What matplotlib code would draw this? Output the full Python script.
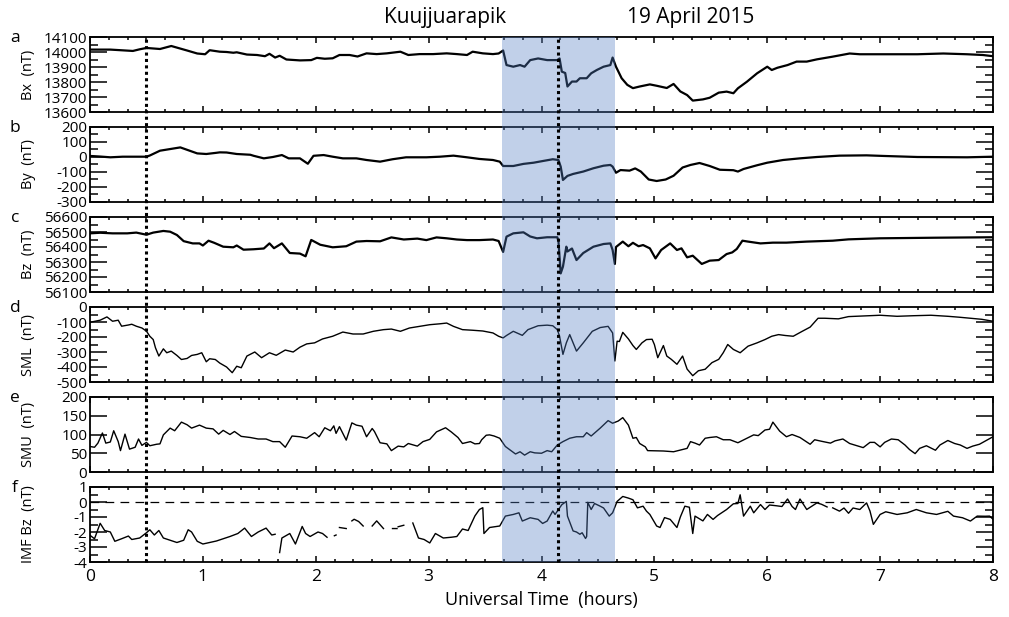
import numpy as np
import matplotlib
matplotlib.use("Agg")
import matplotlib.pyplot as plt
from matplotlib.patches import Rectangle
from matplotlib.lines import Line2D
from matplotlib.transforms import blended_transform_factory
from matplotlib.ticker import MultipleLocator

plt.rcParams['font.family'] = ['Open Sans', 'DejaVu Sans']
plt.rcParams['axes.unicode_minus'] = False

nan = np.nan

# (hours UT, value)
BX = [(0, 14016), (0.18, 14016), (0.27, 14012), (0.38, 14007), (0.44, 14018), (0.5, 14027),
      (0.62, 14020), (0.72, 14040), (0.86, 14010), (0.95, 13990), (1.02, 13985), (1.06, 14012),
      (1.15, 14002), (1.21, 14000), (1.27, 13995), (1.30, 13998), (1.39, 13983), (1.48, 13980),
      (1.55, 13972), (1.59, 13988), (1.64, 13963), (1.68, 13975), (1.74, 13950), (1.86, 13944),
      (1.96, 13946), (2.01, 13961), (2.08, 13955), (2.15, 13958), (2.21, 13980), (2.30, 13980),
      (2.37, 13970), (2.45, 13991), (2.54, 13986), (2.63, 13991), (2.75, 14002), (2.82, 13980),
      (2.92, 13986), (3.04, 13986), (3.16, 13991), (3.25, 13986), (3.34, 13980), (3.39, 14002),
      (3.48, 13991), (3.57, 13986), (3.62, 13990), (3.66, 14010), (3.69, 13913), (3.75, 13902),
      (3.81, 13913), (3.85, 13902), (3.90, 13946), (3.97, 13957), (4.05, 13946), (4.14, 13946),
      (4.16, 13957), (4.18, 13869), (4.21, 13860), (4.23, 13770), (4.27, 13803), (4.31, 13803),
      (4.34, 13825), (4.40, 13825), (4.44, 13858), (4.49, 13880), (4.55, 13902), (4.61, 13913),
      (4.63, 13963), (4.66, 13902), (4.71, 13825), (4.76, 13781), (4.81, 13759), (4.87, 13770),
      (4.96, 13784), (5.02, 13775), (5.11, 13760), (5.17, 13787), (5.23, 13737), (5.29, 13713),
      (5.34, 13676), (5.43, 13684), (5.49, 13695), (5.57, 13729), (5.64, 13736), (5.70, 13725),
      (5.74, 13758), (5.82, 13802), (5.91, 13858), (6.00, 13902), (6.04, 13880), (6.09, 13895),
      (6.18, 13913), (6.26, 13936), (6.35, 13936), (6.44, 13951), (6.58, 13969), (6.73, 13990),
      (6.82, 13985), (7.03, 13985), (7.33, 13985), (7.56, 13990), (7.77, 13985), (7.91, 13980),
      (8.0, 13972)]

BY = [(0, 7), (0.09, 3), (0.18, -2), (0.29, 2), (0.38, 2), (0.5, 2), (0.53, 10), (0.62, 42),
      (0.71, 53), (0.8, 64), (0.86, 48), (0.95, 24), (1.03, 20), (1.12, 28), (1.15, 31),
      (1.21, 30), (1.3, 20), (1.42, 15), (1.45, 8), (1.54, -9), (1.62, 0), (1.70, 13),
      (1.76, -9), (1.86, -9), (1.93, -45), (1.98, 8), (2.07, 13), (2.15, 2), (2.24, -9),
      (2.36, -9), (2.45, -20), (2.57, -31), (2.68, -15), (2.8, -2), (2.98, -2), (3.1, 2),
      (3.22, 9), (3.34, -2), (3.45, -13), (3.57, -20), (3.63, -31), (3.66, -60), (3.75, -60),
      (3.84, -46), (3.93, -38), (4.01, -27), (4.10, -15), (4.15, -20), (4.17, -64), (4.19, -153),
      (4.23, -126), (4.28, -113), (4.37, -97), (4.46, -75), (4.55, -58), (4.61, -53), (4.63, -64),
      (4.66, -105), (4.70, -87), (4.78, -91), (4.83, -76), (4.88, -97), (4.95, -150), (5.02, -160),
      (5.10, -150), (5.17, -125), (5.25, -70), (5.32, -53), (5.40, -40), (5.49, -60), (5.58, -85),
      (5.70, -88), (5.74, -97), (5.79, -80), (5.91, -55), (6.0, -38), (6.14, -20), (6.29, -9),
      (6.44, 0), (6.64, 9), (6.88, 11), (7.03, 7), (7.33, 0), (7.77, -2), (8.0, 2)]

BZ = [(0, 56491), (0.09, 56495), (0.2, 56491), (0.33, 56491), (0.41, 56496), (0.5, 56482),
      (0.56, 56496), (0.65, 56507), (0.71, 56502), (0.77, 56480), (0.83, 56439), (0.91, 56424),
      (0.97, 56424), (1.0, 56410), (1.05, 56442), (1.10, 56428), (1.18, 56402), (1.27, 56398),
      (1.3, 56410), (1.36, 56382), (1.45, 56385), (1.54, 56390), (1.59, 56424), (1.63, 56392),
      (1.70, 56424), (1.77, 56360), (1.86, 56356), (1.91, 56338), (1.96, 56447), (2.04, 56415),
      (2.15, 56398), (2.27, 56405), (2.36, 56436), (2.45, 56440), (2.57, 56438), (2.67, 56464),
      (2.78, 56450), (2.9, 56456), (2.98, 56446), (3.07, 56464), (3.16, 56458), (3.25, 56450),
      (3.34, 56446), (3.45, 56446), (3.57, 56450), (3.62, 56440), (3.66, 56367), (3.69, 56469),
      (3.75, 56491), (3.84, 56498), (3.90, 56470), (3.96, 56458), (4.05, 56465), (4.14, 56465),
      (4.15, 56440), (4.17, 56224), (4.19, 56269), (4.22, 56402), (4.23, 56370), (4.27, 56390),
      (4.31, 56313), (4.37, 56360), (4.46, 56402), (4.55, 56420), (4.61, 56424), (4.63, 56380),
      (4.65, 56287), (4.66, 56400), (4.72, 56436), (4.77, 56405), (4.81, 56428), (4.86, 56405),
      (4.9, 56413), (4.96, 56391), (5.01, 56324), (5.06, 56380), (5.14, 56424), (5.2, 56380),
      (5.24, 56391), (5.29, 56331), (5.34, 56342), (5.42, 56287), (5.49, 56309), (5.57, 56313),
      (5.64, 56353), (5.69, 56364), (5.73, 56387), (5.78, 56442), (5.83, 56436), (5.94, 56424),
      (6.05, 56429), (6.17, 56429), (6.35, 56436), (6.58, 56442), (6.72, 56451), (7.0, 56458),
      (7.5, 56462), (8.0, 56465)]

SML = [(0, -102), (0.09, -88), (0.15, -66), (0.2, -95), (0.25, -88), (0.28, -128), (0.34, -120),
       (0.37, -115), (0.41, -128), (0.46, -140), (0.5, -161), (0.53, -195), (0.56, -217),
       (0.58, -272), (0.61, -327), (0.65, -279), (0.68, -305), (0.72, -294), (0.77, -323),
       (0.81, -350), (0.86, -343), (0.9, -323), (0.95, -316), (0.99, -305), (1.03, -365),
       (1.06, -345), (1.11, -350), (1.15, -374), (1.21, -400), (1.26, -438), (1.3, -395),
       (1.34, -405), (1.39, -327), (1.46, -300), (1.52, -338), (1.59, -305), (1.65, -322),
       (1.73, -287), (1.8, -300), (1.86, -268), (1.92, -246), (1.99, -239), (2.06, -213),
       (2.15, -195), (2.24, -167), (2.33, -180), (2.42, -180), (2.51, -162), (2.6, -151),
       (2.67, -147), (2.75, -162), (2.83, -140), (2.92, -129), (3.01, -118), (3.1, -112),
       (3.16, -107), (3.22, -129), (3.3, -151), (3.39, -155), (3.48, -160), (3.57, -173),
       (3.62, -195), (3.66, -206), (3.69, -190), (3.75, -162), (3.83, -189), (3.88, -151),
       (3.97, -125), (4.05, -121), (4.1, -125), (4.14, -151), (4.16, -195), (4.19, -316),
       (4.22, -239), (4.25, -184), (4.31, -294), (4.37, -239), (4.45, -162), (4.52, -137),
       (4.59, -129), (4.63, -173), (4.65, -360), (4.67, -228), (4.69, -230), (4.72, -169),
       (4.77, -213), (4.81, -257), (4.84, -283), (4.89, -239), (4.93, -217), (4.98, -215),
       (5.0, -250), (5.03, -338), (5.08, -257), (5.11, -327), (5.15, -349), (5.2, -382),
       (5.25, -327), (5.29, -414), (5.34, -458), (5.39, -425), (5.45, -415), (5.51, -371),
       (5.57, -349), (5.61, -305), (5.65, -250), (5.7, -283), (5.76, -305), (5.83, -261),
       (5.91, -239), (5.98, -217), (6.04, -195), (6.1, -184), (6.16, -190), (6.23, -195),
       (6.31, -162), (6.38, -134), (6.45, -75), (6.51, -75), (6.63, -79), (6.72, -64),
       (6.85, -60), (7.0, -55), (7.15, -62), (7.3, -58), (7.45, -55), (7.6, -62), (7.7, -68),
       (7.8, -75), (7.9, -82), (8.0, -95)]

SMU = [(0, 68), (0.04, 66), (0.07, 77), (0.11, 104), (0.14, 77), (0.18, 80), (0.21, 110),
       (0.25, 81), (0.27, 57), (0.31, 101), (0.35, 61), (0.4, 66), (0.43, 88), (0.46, 71),
       (0.5, 79), (0.53, 70), (0.59, 74), (0.62, 75), (0.65, 99), (0.71, 117), (0.75, 110),
       (0.81, 133), (0.86, 126), (0.9, 117), (0.97, 125), (1.03, 117), (1.09, 115), (1.14, 101),
       (1.18, 111), (1.24, 100), (1.28, 108), (1.34, 95), (1.42, 92), (1.49, 88), (1.56, 88),
       (1.62, 81), (1.68, 81), (1.73, 66), (1.79, 96), (1.86, 94), (1.92, 90), (1.99, 105),
       (2.03, 94), (2.08, 118), (2.13, 110), (2.16, 123), (2.18, 103), (2.21, 121), (2.27, 85),
       (2.32, 131), (2.36, 125), (2.41, 122), (2.45, 94), (2.5, 116), (2.52, 108), (2.57, 78),
       (2.63, 75), (2.67, 57), (2.73, 69), (2.78, 67), (2.82, 76), (2.9, 69), (2.95, 81),
       (3.01, 87), (3.07, 107), (3.15, 118), (3.2, 107), (3.26, 92), (3.3, 76), (3.37, 81),
       (3.41, 75), (3.45, 76), (3.47, 86), (3.51, 98), (3.54, 99), (3.58, 96), (3.63, 90),
       (3.68, 68), (3.72, 59), (3.77, 48), (3.81, 54), (3.85, 45), (3.9, 54), (3.94, 51),
       (4.0, 50), (4.05, 57), (4.09, 54), (4.14, 72), (4.19, 81), (4.25, 90), (4.31, 94),
       (4.37, 94), (4.4, 105), (4.44, 96), (4.52, 117), (4.59, 137), (4.63, 130), (4.68, 136),
       (4.72, 145), (4.77, 125), (4.81, 90), (4.84, 92), (4.87, 76), (4.92, 67), (4.94, 57),
       (5.08, 56), (5.17, 54), (5.29, 63), (5.32, 81), (5.36, 77), (5.4, 72), (5.45, 90),
       (5.49, 92), (5.55, 94), (5.61, 86), (5.67, 86), (5.74, 78), (5.8, 87), (5.88, 99),
       (5.92, 97), (5.98, 112), (6.02, 114), (6.05, 133), (6.11, 109), (6.17, 94), (6.22, 100),
       (6.29, 92), (6.38, 74), (6.42, 86), (6.48, 82), (6.56, 77), (6.6, 83), (6.67, 88),
       (6.73, 76), (6.85, 65), (6.91, 79), (6.95, 79), (7.0, 67), (7.04, 79), (7.1, 88),
       (7.16, 86), (7.22, 72), (7.26, 60), (7.31, 49), (7.35, 63), (7.41, 70), (7.49, 58),
       (7.53, 72), (7.6, 84), (7.66, 76), (7.71, 72), (7.77, 63), (7.82, 69), (7.88, 74),
       (7.94, 84), (8.0, 94)]

# nan = data gap
IMF_BZ = [(0, -2.22), (0.04, -2.45), (0.09, -1.42), (0.13, -1.9), (0.18, -2.0), (0.22, -2.62),
          (0.28, -2.45), (0.34, -2.27), (0.37, -2.5), (0.44, -2.4), (0.5, -2.05), (0.53, -1.85),
          (0.57, -2.2), (0.61, -1.9), (0.65, -2.4), (0.71, -2.55), (0.77, -2.7), (0.83, -2.55),
          (0.87, -1.85), (0.9, -2.0), (0.95, -2.62), (1.0, -2.8), (1.12, -2.6), (1.24, -2.3),
          (1.31, -2.1), (1.37, -1.74), (1.43, -2.3), (1.49, -2.0), (1.56, -1.74), (1.61, -2.2),
          (1.64, -2.15), (1.66, nan), (1.68, -3.37), (1.7, -2.4), (1.77, -2.1), (1.82, -2.8),
          (1.88, -1.63), (1.91, -2.1), (1.95, -2.3), (2.02, -2.0), (2.06, -2.1), (2.1, -2.35),
          (2.13, nan), (2.165, -2.25), (2.18, -2.2), (2.19, nan), (2.21, -1.7), (2.27, -1.77),
          (2.3, nan), (2.32, -1.26), (2.34, -1.15), (2.38, -1.3), (2.42, -1.6), (2.46, nan),
          (2.5, -1.6), (2.54, -1.26), (2.6, -1.77), (2.64, nan), (2.68, -1.77), (2.72, -1.77),
          (2.725, nan), (2.73, -1.65), (2.78, -1.55), (2.82, nan), (2.86, -1.4), (2.91, -2.4),
          (2.96, -2.5), (3.01, -2.73), (3.06, -2.1), (3.13, -2.4), (3.2, -2.35), (3.25, -2.3),
          (3.3, -1.8), (3.35, -1.9), (3.41, -0.93), (3.45, -0.5), (3.48, -0.38), (3.49, -2.1),
          (3.54, -1.7), (3.63, -1.6), (3.68, -0.94), (3.75, -0.83), (3.8, -0.72), (3.83, -1.27),
          (3.9, -1.05), (3.97, -1.16), (4.01, -1.43), (4.05, -1.27), (4.1, -0.6), (4.12, -0.83),
          (4.18, -0.18), (4.22, 0.04), (4.23, -0.94), (4.28, -1.93), (4.31, -2.0), (4.34, -2.15),
          (4.36, -2.05), (4.39, -2.43), (4.4, -2.3), (4.41, -0.02), (4.44, -0.5), (4.47, -0.1),
          (4.52, -0.28), (4.55, -0.4), (4.6, -0.94), (4.63, -0.72), (4.67, 0.04), (4.72, 0.37),
          (4.77, 0.26), (4.81, 0.15), (4.85, -0.39), (4.9, -0.28), (4.93, -0.61), (4.96, -0.83),
          (5.02, -1.6), (5.05, -1.7), (5.09, -1.04), (5.14, -1.16), (5.2, -1.7), (5.23, -1.0),
          (5.27, -0.28), (5.31, -0.35), (5.34, -2.1), (5.36, -0.94), (5.43, -1.26), (5.47, -0.83),
          (5.52, -1.16), (5.56, -0.9), (5.64, -0.5), (5.7, -0.12), (5.74, -0.1), (5.76, 0.48),
          (5.79, -0.94), (5.85, -0.28), (5.88, -0.72), (5.94, -0.17), (5.98, -0.5), (6.02, -0.2),
          (6.08, -0.25), (6.13, -0.3), (6.18, 0.2), (6.22, -0.3), (6.25, -0.5), (6.29, 0.2),
          (6.35, -0.5), (6.44, -0.06), (6.48, -0.15), (6.53, -0.33), (6.55, nan), (6.58, -0.39),
          (6.64, -0.61), (6.68, -0.4), (6.72, -0.75), (6.76, -0.4), (6.82, -0.5), (6.88, -0.06),
          (6.91, -0.6), (6.94, -1.49), (7.0, -0.83), (7.05, -0.65), (7.15, -0.83), (7.24, -0.72),
          (7.32, -0.5), (7.41, -0.72), (7.5, -0.83), (7.6, -0.62), (7.65, -0.94), (7.73, -1.05),
          (7.8, -1.27), (7.86, -0.94), (7.93, -0.95), (7.97, -0.94), (8.0, -1.15)]

EVENT_LINES = [0.5, 4.15]          # dotted markers (h)
SHADE = (3.65, 4.65)               # Kuujjuarapik window (h)

# letter, ylabel, data, ylim, major, minor, linewidth
panels = [
    ("a", "Bx  (nT)", BX, (13600, 14100), 100, 50, 1.6),
    ("b", "By  (nT)", BY, (-300, 200), 100, 50, 1.6),
    ("c", "Bz  (nT)", BZ, (56100, 56600), 100, 50, 1.6),
    ("d", "SML  (nT)", SML, (-500, 0), 100, 50, 1.0),
    ("e", "SMU  (nT)", SMU, (0, 200), 50, None, 1.0),
    ("f", "IMF Bz  (nT)", IMF_BZ, (-4, 1), 1, 0.5, 1.0),
]

W, H = 1009, 617
fig = plt.figure(figsize=(W / 100, H / 100), dpi=100)
left, width = 90 / W, 903 / W
axes = []
for i, (letter, ylab, data, ylim, major, minor, lw) in enumerate(panels):
    top = 37 + 90 * i
    ax = fig.add_axes([left, 1 - (top + 75) / H, width, 75 / H])
    t = [p[0] for p in data]
    v = [p[1] for p in data]
    ax.plot(t, v, color="black", lw=lw, zorder=3)
    if letter == "f":
        ax.axhline(0, color="black", lw=0.9, ls=(0, (7, 5)), zorder=2)
    ax.set_xlim(0, 8)
    ax.set_ylim(*ylim)
    ax.xaxis.set_major_locator(MultipleLocator(1))
    ax.xaxis.set_minor_locator(MultipleLocator(1 / 6))
    ax.set_yticks(np.arange(ylim[0], ylim[1] + major / 2, major))
    if minor:
        ax.set_yticks(np.arange(ylim[0], ylim[1] + minor / 2, minor), minor=True)
    ax.set_ylim(*ylim)
    ax.tick_params(axis="both", which="both", direction="in", top=True, right=True, width=1.1)
    ax.tick_params(axis="y", which="major", length=12, labelsize=11, pad=2)
    ax.tick_params(axis="y", which="minor", length=6)
    ax.tick_params(axis="x", which="major", length=4.5, labelsize=12.5, pad=5)
    ax.tick_params(axis="x", which="minor", length=2.5)
    if letter != "f":
        ax.tick_params(axis="x", labelbottom=False)
    for s in ax.spines.values():
        s.set_linewidth(1.3)
    ax.set_ylabel(ylab, fontsize=10.5)
    ax.yaxis.set_label_coords(-0.06, 0.5)
    fig.text(15 / W, 1 - (top + 1) / H, letter, fontsize=12.5, ha="center", va="center")
    axes.append(ax)

axes[-1].set_xlabel("Universal Time  (hours)", fontsize=13, labelpad=4)

# shaded interval and dotted markers run through all panels
y_bot = 1 - (37 + 90 * 5 + 75) / H
y_top = 1 - 37 / H
trans = blended_transform_factory(axes[-1].transData, fig.transFigure)
fig.add_artist(Rectangle((SHADE[0], y_bot), SHADE[1] - SHADE[0], y_top - y_bot,
                         transform=trans, facecolor="#537dc2", alpha=0.36,
                         edgecolor="none", zorder=5))
for x in EVENT_LINES:
    fig.add_artist(Line2D([x, x], [y_bot, y_top], transform=trans, color="black",
                          lw=2.2, ls=(0, (1, 1.1)), zorder=6))

fig.text(445 / W, 1 - 17 / H, "Kuujjuarapik", fontsize=15, ha="center", va="center")
fig.text(691 / W, 1 - 17 / H, "19 April 2015", fontsize=15, ha="center", va="center")

fig.savefig("out.png", dpi=100)
